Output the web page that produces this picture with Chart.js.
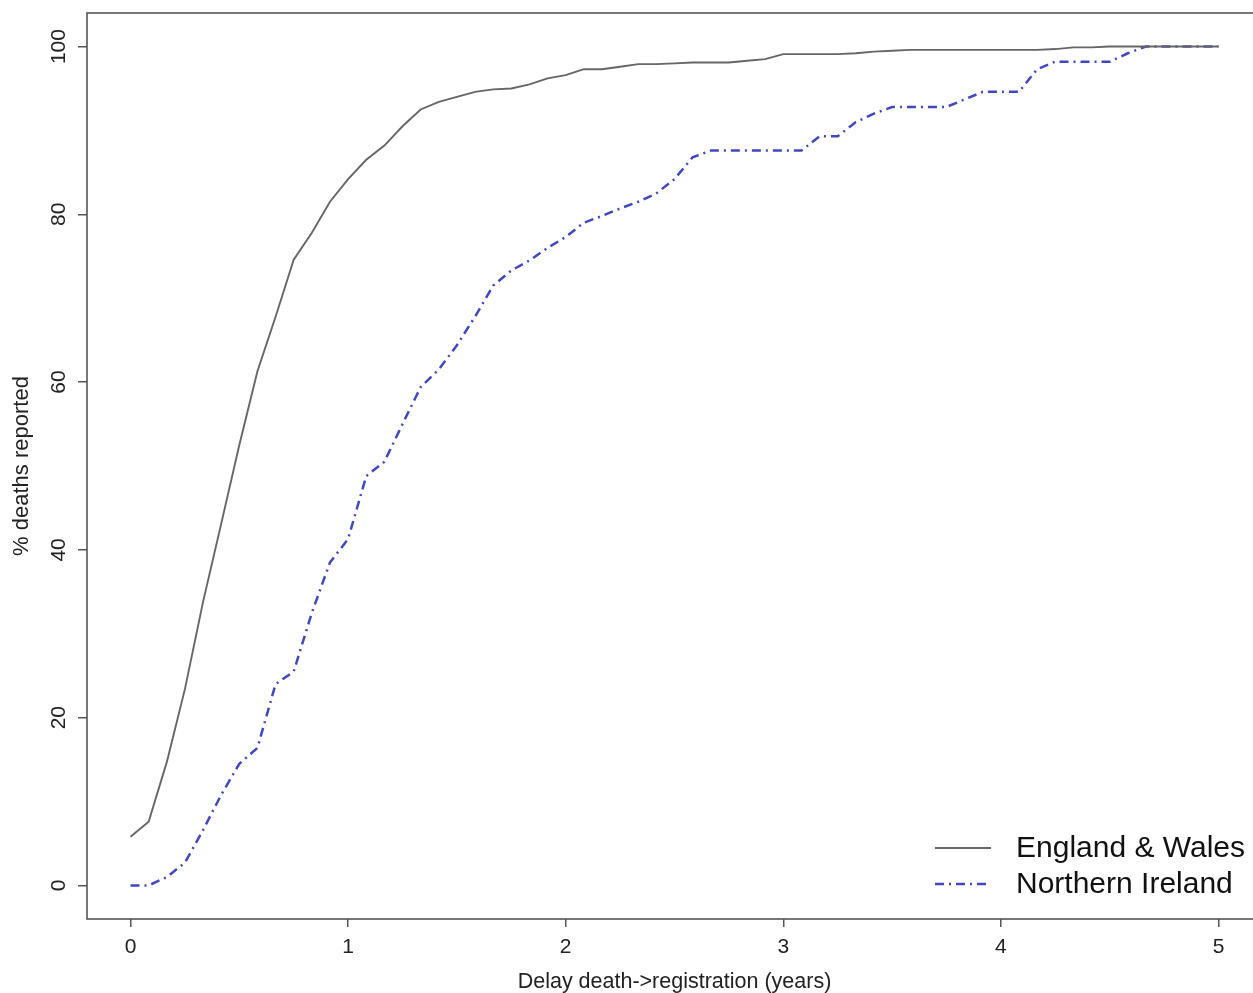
<!DOCTYPE html>
<html>
<head>
<meta charset="utf-8">
<script src="https://cdn.jsdelivr.net/npm/chart.js@4/dist/chart.umd.min.js"></script>
<style>
  html, body { margin: 0; padding: 0; background: #fff; overflow: hidden; }
  #wrap { width: 1253px; height: 993px; overflow: hidden; position: relative; }
  canvas { display: block; }
</style>
</head>
<body>
<div id="wrap"><canvas id="c" width="1262" height="993"></canvas></div>
<script>
// Delay since death, in months (x axis drawn in years)
const delayMonths = [0,1,2,3,4,5,6,7,8,9,10,11,12,13,14,15,16,17,18,19,20,21,22,23,24,25,26,27,28,29,30,31,32,33,34,35,36,37,38,39,40,41,42,43,44,45,46,47,48,49,50,51,52,53,54,55,56,57,58,59,60];

// % of deaths reported
const englandWales = [5.8,7.6,14.7,23.4,33.8,43.1,52.5,61.3,67.8,74.6,77.8,81.5,84.2,86.5,88.2,90.5,92.5,93.4,94.0,94.6,94.9,95.0,95.5,96.2,96.6,97.3,97.3,97.6,97.9,97.9,98.0,98.1,98.1,98.1,98.3,98.5,99.1,99.1,99.1,99.1,99.2,99.4,99.5,99.6,99.6,99.6,99.6,99.6,99.6,99.6,99.6,99.7,99.9,99.9,100,100,100,100,100,100,100];
const northernIreland = [0,0,1.0,2.7,6.6,10.8,14.5,16.4,24.0,25.5,32.5,38.5,41.3,48.8,50.5,55.0,59.4,61.5,64.4,67.8,71.5,73.3,74.5,76.0,77.3,79.0,79.8,80.7,81.5,82.5,84.2,86.8,87.6,87.6,87.6,87.6,87.6,87.6,89.3,89.3,91.0,92.0,92.8,92.8,92.8,92.8,93.7,94.6,94.6,94.6,97.3,98.2,98.2,98.2,98.2,99.2,100,100,100,100,100];

const seriesNames = ['England & Wales', 'Northern Ireland'];
const xTickMonths = [0,12,24,36,48,60];
const xTickLabels = ['0','1','2','3','4','5'];
const yTickValues = [0,20,40,60,80,100];
const yTickLabels = ['0','20','40','60','80','100'];
const xTitle = 'Delay death->registration (years)';
const yTitle = '% deaths reported';

const FONT = '"Liberation Sans", Arial, Helvetica, sans-serif';
const AXIS_COL = '#555555';
const TEXT_COL = '#222222';

const toPts = arr => arr.map((v, i) => ({ x: delayMonths[i], y: v }));

const customDraw = {
  id: 'customDraw',
  afterDraw(chart) {
    const ctx = chart.ctx;
    const ca = chart.chartArea;
    const ys = chart.scales.y;
    ctx.save();
    // frame
    ctx.strokeStyle = AXIS_COL;
    ctx.lineWidth = 1.6;
    ctx.strokeRect(ca.left, ca.top, ca.right - ca.left, ca.bottom - ca.top);
    // y tick labels, rotated
    ctx.fillStyle = TEXT_COL;
    ctx.font = '21px ' + FONT;
    ctx.textAlign = 'center';
    ctx.textBaseline = 'middle';
    yTickValues.forEach((v, i) => {
      const py = ys.getPixelForValue(v);
      ctx.save();
      ctx.translate(59, py);
      ctx.rotate(-Math.PI / 2);
      ctx.fillText(yTickLabels[i], 0, 0);
      ctx.restore();
    });
    // y title
    ctx.save();
    ctx.font = '22px ' + FONT;
    ctx.translate(22, (ca.top + ca.bottom) / 2);
    ctx.rotate(-Math.PI / 2);
    ctx.fillText(yTitle, 0, 0);
    ctx.restore();
    // legend
    const lgY = [848, 884];
    ctx.font = '30px ' + FONT;
    ctx.textAlign = 'left';
    chart.data.datasets.forEach((ds, i) => {
      ctx.save();
      ctx.strokeStyle = ds.borderColor;
      ctx.lineWidth = ds.borderWidth;
      ctx.setLineDash(ds.borderDash || []);
      ctx.beginPath();
      ctx.moveTo(935, lgY[i]);
      ctx.lineTo(991, lgY[i]);
      ctx.stroke();
      ctx.restore();
      ctx.fillStyle = '#111';
      ctx.fillText(ds.label, 1016, lgY[i] + 1);
    });
    ctx.restore();
  }
};

new Chart(document.getElementById('c'), {
  type: 'line',
  data: {
    datasets: [
      {
        label: seriesNames[0],
        data: toPts(englandWales),
        borderColor: '#666666',
        borderWidth: 1.9,
        pointRadius: 0,
        tension: 0,
        fill: false
      },
      {
        label: seriesNames[1],
        data: toPts(northernIreland),
        borderColor: '#4048c0',
        borderWidth: 2.5,
        borderDash: [9, 5, 2, 5],
        pointRadius: 0,
        tension: 0,
        fill: false
      }
    ]
  },
  options: {
    responsive: false,
    animation: false,
    devicePixelRatio: 1,
    layout: { padding: { top: 13, right: 0, left: 0, bottom: 0 } },
    plugins: { legend: { display: false }, tooltip: { enabled: false } },
    scales: {
      x: {
        type: 'linear',
        min: -2.4,
        max: 62.4,
        afterBuildTicks: s => { s.ticks = xTickMonths.map(v => ({ value: v })); },
        afterFit: s => { s.height = 74; },
        grid: { drawOnChartArea: false, drawTicks: true, tickLength: 8, color: AXIS_COL, lineWidth: 1.5 },
        border: { display: false },
        ticks: {
          color: TEXT_COL,
          font: { family: FONT, size: 21 },
          padding: 8,
          maxRotation: 0,
          callback: (v) => { const i = xTickMonths.indexOf(v); return i >= 0 ? xTickLabels[i] : ''; }
        },
        title: {
          display: true,
          text: xTitle,
          color: TEXT_COL,
          font: { family: FONT, size: 21.5, lineHeight: 1.0 },
          padding: { top: 0, bottom: 0 }
        }
      },
      y: {
        type: 'linear',
        min: -4,
        max: 104,
        afterBuildTicks: s => { s.ticks = yTickValues.map(v => ({ value: v })); },
        afterFit: s => { s.width = 87; },
        grid: { drawOnChartArea: false, drawTicks: true, tickLength: 9, color: AXIS_COL, lineWidth: 1.5 },
        border: { display: false },
        ticks: { display: false }
      }
    }
  },
  plugins: [customDraw]
});
</script>
</body>
</html>
